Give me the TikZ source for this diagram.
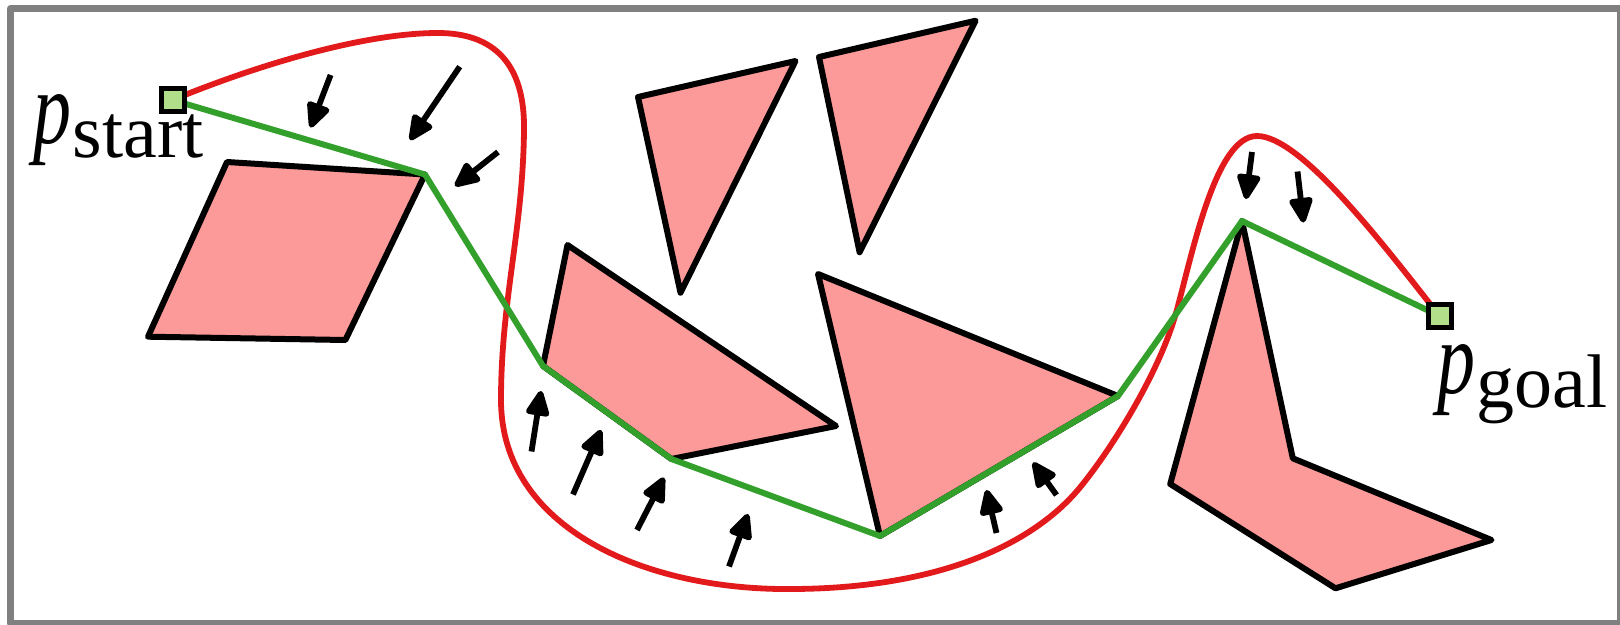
\documentclass[tikz,border=0pt]{standalone}
\usepackage{fontspec}
\setmainfont{Liberation Serif}
\usetikzlibrary{arrows.meta}
\definecolor{obsfill}{HTML}{FB9A99}
\definecolor{pathgreen}{HTML}{33A02C}
\definecolor{pathred}{HTML}{E31A1C}
\definecolor{boxgreen}{HTML}{B2DF8A}
\definecolor{framegray}{HTML}{808080}
\tikzset{
  obstacle/.style={draw=black, fill=obsfill, line width=6pt, line join=round},
  greenpath/.style={draw=pathgreen, line width=6pt, line join=round},
  redpath/.style={draw=pathred, line width=5.8pt},
  force/.style={draw=black, line width=5.8pt, -{Triangle[length=29pt,width=25pt,round]}},
  endbox/.style={draw=black, fill=boxgreen, line width=5pt, minimum size=23pt, inner sep=0pt, shape=rectangle},
  biglabel/.style={anchor=base west, inner sep=0pt}
}
\newcommand{\plabel}[1]{\scalebox{0.73}[1]{\fontsize{104}{110}\selectfont\itshape p}\hspace{1.5pt}\raisebox{-14pt}{\fontsize{76}{80}\selectfont #1}}
\begin{document}
\begin{tikzpicture}[x=1pt,y=-1pt]
\useasboundingbox (0,0) rectangle (1620,624);
\draw[framegray, line width=6.4pt, line join=round] (10.3,8.3) rectangle (1620.5,623.5);

% path vertices (obstacle corners)
\coordinate (s) at (172.5,100);
\coordinate (g) at (1439.5,316);
\coordinate (v1) at (425,174.5);
\coordinate (v2) at (543,366);
\coordinate (v3) at (671.4,459);
\coordinate (v4) at (880,536);
\coordinate (v5) at (1118,396);
\coordinate (v6) at (1242,221);

% obstacles
\draw[obstacle] (227,162) -- (v1) -- (345.4,340) -- (148,336.7) -- cycle;
\draw[obstacle] (638,97) -- (795.5,61) -- (680.5,292.7) -- cycle;
\draw[obstacle] (819,57) -- (975.6,20.7) -- (859.6,252.3) -- cycle;
\draw[obstacle] (567.5,245) -- (836,426) -- (v3) -- (v2) -- cycle;
\draw[obstacle] (818,274) -- (v5) -- (v4) -- cycle;
\draw[obstacle] (v6) -- (1292.8,458.3) -- (1491.5,540) -- (1335.5,588.3) -- (1170.2,484) -- cycle;

% red trajectory
\draw[redpath] (s) .. controls (250,68) and (360,33) .. (438,33)
  .. controls (495,33) and (525,65) .. (524,130)
  .. controls (523,230) and (501,300) .. (501,400)
  .. controls (501,528) and (645,591) .. (794,589)
  .. controls (940,588) and (1035,544) .. (1082,485)
  .. controls (1115,444) and (1160,370) .. (1176,313)
  .. controls (1192,256) and (1215,136) .. (1257,136)
  .. controls (1300,136) and (1380,240) .. (g);

% green path
\draw[greenpath] (s) -- (v1) -- (v2) -- (v3) -- (v4) -- (v5) -- (v6) -- (g);

% forces
\coordinate (a1t) at (330.6,75);   \coordinate (a1h) at (310.5,127.5);
\coordinate (a2t) at (459.7,66.7); \coordinate (a2h) at (410,140);
\coordinate (a3t) at (498,152);    \coordinate (a3h) at (455,186);
\coordinate (b1t) at (531.5,451.5); \coordinate (b1h) at (541,391);
\coordinate (b2t) at (573,494.5);  \coordinate (b2h) at (601,430);
\coordinate (b3t) at (637,530);    \coordinate (b3h) at (664,477.5);
\coordinate (b4t) at (729,566.5);  \coordinate (b4h) at (748,514);
\coordinate (b5t) at (996.5,533);  \coordinate (b5h) at (986.5,490);
\coordinate (b6t) at (1056.5,495); \coordinate (b6h) at (1033,462.5);
\coordinate (c1t) at (1252,152);   \coordinate (c1h) at (1246,199);
\coordinate (c2t) at (1297.5,171.5); \coordinate (c2h) at (1303.5,222.5);
\foreach \n in {a1,a2,a3,b1,b2,b3,b4,b5,b6,c1,c2}
  \draw[force] (\n t) -- (\n h);

% end points
\node[endbox] (start) at (s) {};
\node[endbox] (goal) at (g) {};
\node[biglabel] (startlabel) at (33,143) {\plabel{start}};
\node[biglabel] (goallabel) at (1437,393) {\plabel{goal}};
\end{tikzpicture}
\end{document}
